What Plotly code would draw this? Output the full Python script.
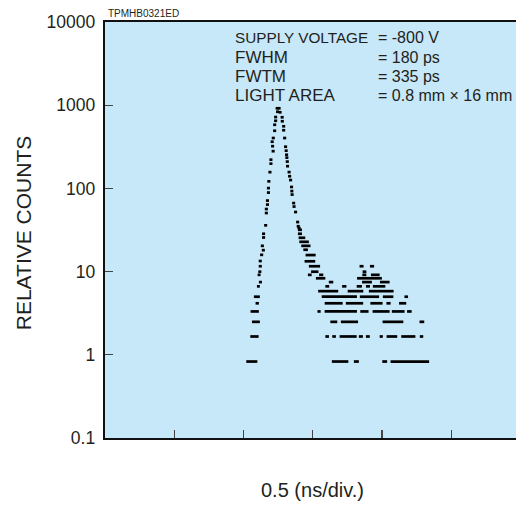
import plotly.graph_objects as go

# ---------------- data ----------------
# time axis in ns (0.5 ns / division)
x_range_ns = [0, 2.9675]
div_ticks_ns = [0.5, 1.0, 1.5, 2.0, 2.5]
y_tick_vals = [0.1, 1, 10, 100, 1000, 10000]
y_tick_text = ["0.1", "1", "10", "100", "1000", "10000"]

# single channels on the steep rising / falling edges of the peak
edge_time_ns = [
    1.118, 1.121, 1.121, 1.131, 1.143, 1.136, 1.145, 1.145, 1.160, 1.165,
    1.165, 1.173, 1.173, 1.180, 1.180, 1.183, 1.191, 1.198, 1.198, 1.210,
    1.214, 1.207, 1.215, 1.225, 1.225, 1.232, 1.232, 1.243, 1.246, 1.257,
    1.264,
    1.279, 1.280, 1.290, 1.290, 1.297, 1.304, 1.308, 1.311, 1.313, 1.316,
    1.318, 1.329, 1.333, 1.340, 1.347, 1.349, 1.351, 1.362, 1.365, 1.376,
    1.391, 1.401, 1.395,
]
edge_counts = [
    9.97, 11.6, 13.4, 15.9, 18.1, 20.4, 25.7, 28.5, 36.0, 50.6,
    56.5, 63.9, 71.4, 89.1, 100.8, 121.6, 156.8, 198.4, 221.4, 321.6,
    280.1, 364, 403.2, 493, 582, 650, 720, 918, 834, 918,
    822,
    716, 641, 558, 500, 403, 317, 284, 254, 234, 210,
    185, 157, 140, 126, 104, 92.8, 84.3, 66.6, 60.5, 52.0,
    39.4, 33.4, 35.1,
]

# runs of neighbouring channels that share one count level (start, end in ns)
run_start_ns = [
    1.020, 1.638, 1.797, 2.002, 2.062,
    1.049, 1.591, 1.641, 1.694, 1.833, 1.884, 1.983, 2.033, 2.139, 2.273,
    1.061, 1.627, 1.703, 2.004, 2.271,
    1.051, 1.534, 1.586, 1.843, 1.932, 2.071, 2.181,
    1.087, 1.586, 1.739, 1.916, 2.032, 2.123,
    1.075, 1.565, 1.840, 2.006, 2.162,
    1.539, 1.752, 1.905,
    1.097, 1.591, 1.712, 1.817, 1.884, 1.934,
    1.111, 1.616, 1.856, 1.985,
    1.523, 1.820,
    1.102, 1.465, 1.546, 1.858, 1.920,
    1.488, 1.860,
    1.472, 1.838, 1.913,
    1.441, 1.448, 1.432, 1.417, 1.403, 1.398, 1.393, 1.393,
]
run_end_ns = [
    1.100, 1.757, 1.833, 2.037, 2.340,
    1.109, 1.617, 1.667, 1.817, 1.862, 1.912, 2.006, 2.110, 2.241, 2.298,
    1.118, 1.677, 1.827, 2.154, 2.305,
    1.111, 1.557, 1.819, 1.903, 2.055, 2.163, 2.214,
    1.111, 1.716, 1.864, 2.004, 2.062, 2.175,
    1.118, 1.819, 1.979, 2.082, 2.188,
    1.684, 1.865, 2.084,
    1.118, 1.619, 1.743, 1.855, 1.913, 2.024,
    1.133, 1.648, 1.927, 2.055,
    1.591, 1.999,
    1.123, 1.492, 1.576, 1.887, 1.983,
    1.541, 1.887,
    1.553, 1.867, 1.943,
    1.518, 1.521, 1.465, 1.484, 1.472, 1.446, 1.422, 1.422,
]
run_counts = [
    0.83, 0.83, 0.83, 0.83, 0.83,
    1.66, 1.66, 1.66, 1.66, 1.66, 1.66, 1.66, 1.66, 1.66, 1.66,
    2.49, 2.49, 2.49, 2.49, 2.49,
    3.32, 3.32, 3.32, 3.32, 3.32, 3.32, 3.32,
    4.16, 4.16, 4.16, 4.16, 4.16, 4.16,
    4.99, 4.99, 4.99, 4.99, 4.99,
    5.82, 5.82, 5.82,
    6.65, 6.65, 6.65, 6.65, 6.65, 6.65,
    7.48, 7.48, 7.48, 7.48,
    8.31, 8.31,
    9.14, 9.14, 9.14, 9.14, 9.14,
    9.97, 9.97,
    11.6, 11.6, 11.6,
    13.3, 15.8, 18.3, 20.4, 22.8, 25.5, 28.5, 31.8,
]

param_labels = ["SUPPLY VOLTAGE", "FWHM", "FWTM", "LIGHT AREA"]
param_values = ["= -800 V", "= 180 ps", "= 335 ps", "= 0.8 mm \u00d7 16 mm"]

# ---------------- figure ----------------
FONT = "Liberation Sans, Arial, Helvetica, sans-serif"
W, H = 516, 521
L, R, T, B = 105, 0, 22, 82.5
PW, PH = W - L - R, H - T - B

run_x, run_y = [], []
for s, e, c in zip(run_start_ns, run_end_ns, run_counts):
    run_x += [s, e, None]
    run_y += [c, c, None]

fig = go.Figure()
fig.add_trace(go.Scatter(
    x=run_x, y=run_y, mode="lines",
    line=dict(color="black", width=2.7),
    hoverinfo="skip", showlegend=False,
))
fig.add_trace(go.Scatter(
    x=edge_time_ns, y=edge_counts, mode="markers",
    marker=dict(symbol="line-ew", size=2.2, color="black",
                line=dict(color="black", width=2.7)),
    showlegend=False,
))


def px_x(p):
    return (p - L) / PW


def px_y(p):
    return (H - B - p) / PH


ann = []
ann.append(dict(text="TPMHB0321ED", x=px_x(106), y=px_y(13.5), xref="paper", yref="paper",
                xanchor="left", yanchor="middle", showarrow=False,
                font=dict(family=FONT, size=10, color="#231f20")))
line_y = [38, 57.2, 76.4, 95.6]
for i, (lab, val) in enumerate(zip(param_labels, param_values)):
    ann.append(dict(text=lab, x=px_x(232.5), y=px_y(line_y[i]), xref="paper", yref="paper",
                    xanchor="left", yanchor="middle", showarrow=False,
                    font=dict(family=FONT, size=15.3 if i == 0 else 17, color="#231f20")))
    ann.append(dict(text=val, x=px_x(375.5), y=px_y(line_y[i]), xref="paper", yref="paper",
                    xanchor="left", yanchor="middle", showarrow=False,
                    font=dict(family=FONT, size=16, color="#231f20")))
ann.append(dict(text="RELATIVE COUNTS", x=px_x(23), y=px_y(233.5), xref="paper", yref="paper",
                xanchor="center", yanchor="middle", textangle=-90, showarrow=False,
                font=dict(family=FONT, size=21, color="#231f20")))
ann.append(dict(text="0.5 (ns/div.)", x=px_x(312), y=px_y(491), xref="paper", yref="paper",
                xanchor="center", yanchor="middle", showarrow=False,
                font=dict(family=FONT, size=20, color="#231f20")))

fig.update_layout(
    width=W, height=H,
    margin=dict(l=L, r=R, t=T, b=B, pad=0),
    paper_bgcolor="white",
    plot_bgcolor="#c7e8f8",
    font=dict(family=FONT, color="#231f20"),
    annotations=ann,
    showlegend=False,
)
fig.update_xaxes(
    range=x_range_ns, tickvals=div_ticks_ns, showticklabels=False,
    ticks="inside", ticklen=8, tickwidth=1.3, tickcolor="#444444",
    showline=True, linecolor="#111111", linewidth=2.3, mirror=True,
    showgrid=False, zeroline=False, fixedrange=True,
)
fig.update_yaxes(
    type="log", range=[-1, 4], tickvals=y_tick_vals, ticktext=y_tick_text,
    ticks="inside", ticklen=8, tickwidth=1.3, tickcolor="#444444",
    tickfont=dict(family=FONT, size=17.5, color="#231f20"),
    ticklabelstandoff=4,
    showline=True, linecolor="#111111", linewidth=2.3,
    showgrid=False, zeroline=False, fixedrange=True,
)

fig.write_html(
    "out.html",
    config={"displayModeBar": False, "staticPlot": True},
    post_script="document.body.style.margin='0px';document.body.style.overflow='hidden';",
)
